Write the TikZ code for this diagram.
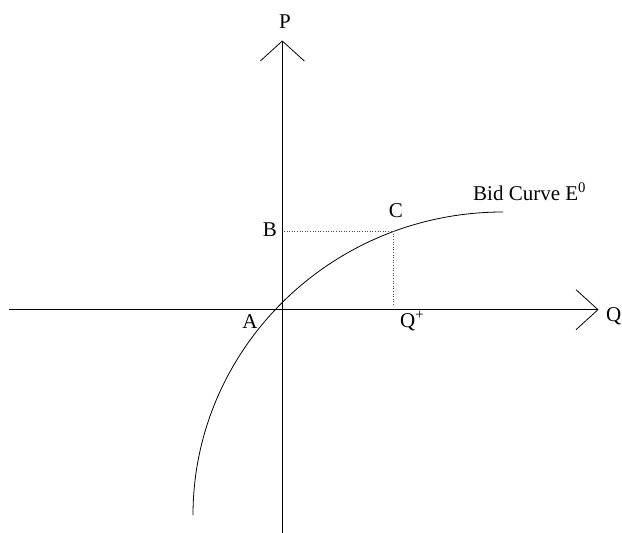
\documentclass[tikz,border=0pt]{standalone}
\usepackage{fontspec}
\setmainfont{Liberation Serif}
\begin{document}
\begin{tikzpicture}[x=1pt,y=-1pt,
  axis/.style={line width=0.8pt},
  guide/.style={dotted,line width=0.6pt,black!70},
  curve/.style={line width=0.8pt},
  lbl/.style={inner sep=0pt,font=\fontsize{21}{25}\selectfont}]
\useasboundingbox (0,0) rectangle (622,533);
% axes
\coordinate (O) at (282.3,309.7);
\coordinate (Ptip) at (282.3,41);
\coordinate (Pbot) at (282.3,533);
\coordinate (Qtip) at (598,309.7);
\coordinate (Qleft) at (9,309.7);
\draw[axis] (Pbot) -- (Ptip);
\draw[axis] (Ptip) -- ++(-22,20);
\draw[axis] (Ptip) -- ++(22,20);
\draw[axis] (Qleft) -- (Qtip);
\draw[axis] (Qtip) -- ++(-22,-20);
\draw[axis] (Qtip) -- ++(-22,20);
% curve
\coordinate (cstart) at (193,515);
\coordinate (cend) at (503,212);
\draw[curve] (cstart) .. controls (193,350) and (330,212) .. (cend);
% guides
\coordinate (C) at (393,231);
\coordinate (Bpt) at (284,231);
\coordinate (Qp) at (393,306);
\draw[guide] (Bpt) -- (C) -- (Qp);
% labels
\node[lbl] (P) at (285,22) {P};
\node[lbl,anchor=west] (Q) at (606,316) {Q};
\node[lbl] (B) at (270,230) {B};
\node[lbl] (Cl) at (396,211) {C};
\node[lbl] (A) at (250,322) {A};
\node[lbl,anchor=west] (Qplus) at (400,321) {Q\textsuperscript{+}};
\node[lbl,anchor=base west] (bid) at (473,200) {Bid Curve E\textsuperscript{0}};
\end{tikzpicture}
\end{document}
